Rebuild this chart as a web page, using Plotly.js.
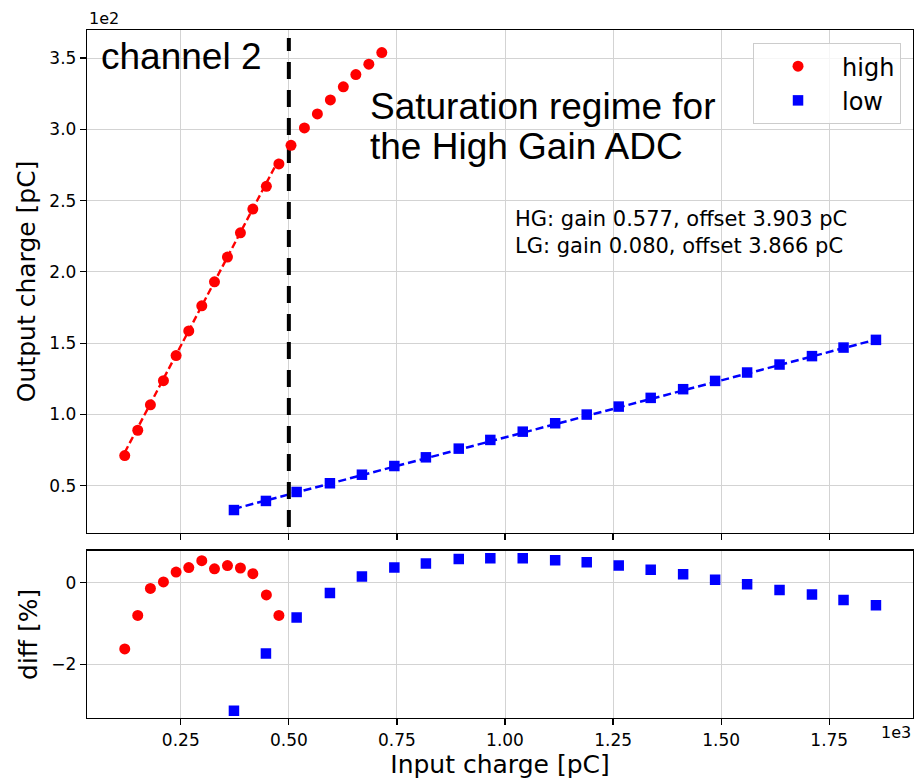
<!DOCTYPE html>
<html>
<head>
<meta charset="utf-8">
<script src="https://cdn.plot.ly/plotly-3.0.1.min.js"></script>
<style>html,body{margin:0;padding:0;background:#fff;}#chart{width:914px;height:781px;}</style>
</head>
<body>
<div id="chart"></div>
<script>
// ---- data (input charge in pC, output charge in pC, diff in %) ----
const highX = [120.4, 150.5, 179.8, 209.9, 239.2, 268.5, 298.6, 328.0, 358.0, 388.0, 416.7, 448.0, 477.0, 505.0, 536.0, 566.0, 596.0, 626.0, 655.0, 685.0, 715.0];
const highY = [71.1, 88.9, 106.7, 123.7, 141.3, 158.6, 176.2, 193.0, 210.4, 227.4, 244.1, 260.0, 275.7, 288.8, 301.0, 310.8, 320.6, 329.8, 338.4, 345.7, 353.9];
const lowX = [373, 447, 518, 595, 669, 744, 817, 893, 966, 1041, 1116, 1189, 1263, 1337, 1412, 1486, 1560, 1635, 1710, 1783, 1858];
const lowY = [32.9, 39.3, 45.6, 51.7, 57.7, 63.8, 69.9, 76.0, 82.1, 87.9, 93.8, 99.9, 105.5, 111.6, 117.7, 123.5, 129.4, 135.0, 140.9, 146.9, 152.3];
const hgFitX = [120.4, 477.0];
const hgFitY = [73.3, 279.1];
const lgFitX = [373, 1858];
const lgFitY = [33.7, 152.5];
const highDiffX = highX.slice(0, 13);
const highDiff = [-1.62, -0.80, -0.14, 0.02, 0.26, 0.37, 0.54, 0.34, 0.42, 0.36, 0.22, -0.30, -0.80];
const lowDiff = [-3.13, -1.73, -0.85, -0.25, 0.15, 0.37, 0.47, 0.58, 0.60, 0.60, 0.55, 0.50, 0.42, 0.32, 0.21, 0.07, -0.04, -0.18, -0.29, -0.42, -0.55];
const saturationX = [500, 500];
const saturationY = [21, 364];
const xTickVals = [250, 500, 750, 1000, 1250, 1500, 1750];
const xTickText = ['0.25', '0.50', '0.75', '1.00', '1.25', '1.50', '1.75'];
const yTickVals = [50, 100, 150, 200, 250, 300, 350];
const yTickText = ['0.5', '1.0', '1.5', '2.0', '2.5', '3.0', '3.5'];
const dTickVals = [-2, 0];
const dTickText = ['\u22122', '0'];
const fitLines = ['HG: gain 0.577, offset 3.903 pC', 'LG: gain 0.080, offset 3.866 pC'];

const RED = '#ff0000', BLUE = '#0000ff';
const DV = 'DejaVu Sans, sans-serif';
const LS = 'Liberation Sans, Arial, sans-serif';

const traces = [
  {x: hgFitX, y: hgFitY, xaxis: 'x', yaxis: 'y', mode: 'lines', showlegend: false, hoverinfo: 'skip',
   line: {color: RED, width: 2.4, dash: '7px,3.5px'}},
  {x: lgFitX, y: lgFitY, xaxis: 'x', yaxis: 'y', mode: 'lines', showlegend: false, hoverinfo: 'skip',
   line: {color: BLUE, width: 2.5, dash: '8px,4px'}},
  {x: saturationX, y: saturationY, xaxis: 'x', yaxis: 'y', mode: 'lines', showlegend: false, hoverinfo: 'skip',
   line: {color: '#000000', width: 4, dash: '17px,11px'}},
  {x: highX, y: highY, xaxis: 'x', yaxis: 'y', mode: 'markers', name: 'high',
   marker: {color: RED, size: 11, symbol: 'circle'}},
  {x: lowX, y: lowY, xaxis: 'x', yaxis: 'y', mode: 'markers', name: 'low',
   marker: {color: BLUE, size: 10.5, symbol: 'square'}},
  {x: highDiffX, y: highDiff, xaxis: 'x2', yaxis: 'y2', mode: 'markers', showlegend: false,
   marker: {color: RED, size: 11, symbol: 'circle'}},
  {x: lowX, y: lowDiff, xaxis: 'x2', yaxis: 'y2', mode: 'markers', showlegend: false,
   marker: {color: BLUE, size: 10.5, symbol: 'square'}}
];

const GRID = '#d3d3d3';
const tickFont = {family: DV, size: 17, color: '#000'};
const titleFont = {family: DV, size: 25, color: '#000'};
const axisCommon = {
  showline: true, linecolor: '#000', linewidth: 1.2, mirror: true,
  ticks: 'outside', ticklen: 6, tickwidth: 1.2, tickcolor: '#000',
  showgrid: true, gridcolor: GRID, gridwidth: 1, zeroline: false,
  tickfont: tickFont, tickmode: 'array'
};

const layout = {
  width: 914, height: 781,
  margin: {l: 87, r: 1, t: 30, b: 63},
  paper_bgcolor: '#fff', plot_bgcolor: '#fff',
  showlegend: true,
  legend: {
    x: 0.9855, y: 0.981, xanchor: 'right', yanchor: 'top',
    bgcolor: 'rgba(255,255,255,0.8)', bordercolor: '#cccccc', borderwidth: 1,
    font: {family: DV, size: 24, color: '#000'}, itemwidth: 78, tracegroupgap: 0
  },
  xaxis: Object.assign({}, axisCommon, {
    domain: [0, 1], anchor: 'y', range: [33.1, 1943.7],
    tickvals: xTickVals, ticktext: xTickText, showticklabels: false
  }),
  xaxis2: Object.assign({}, axisCommon, {
    domain: [0, 1], anchor: 'y2', range: [33.1, 1943.7], matches: 'x',
    tickvals: xTickVals, ticktext: xTickText,
    title: {text: 'Input charge [pC]', font: titleFont, standoff: 4}
  }),
  yaxis: Object.assign({}, axisCommon, {
    domain: [0.2693, 1], anchor: 'x', range: [17.0, 369.7],
    tickvals: yTickVals, ticktext: yTickText,
    title: {text: 'Output charge [pC]', font: titleFont, standoff: 6}
  }),
  yaxis2: Object.assign({}, axisCommon, {
    domain: [0, 0.2432], anchor: 'x2', range: [-3.31, 0.784],
    tickvals: dTickVals, ticktext: dTickText,
    title: {text: 'diff [%]', font: titleFont, standoff: 6}
  }),
  annotations: [
    {text: 'channel 2', xref: 'x', yref: 'y', x: 60, y: 351, xanchor: 'left', yanchor: 'middle',
     showarrow: false, font: {family: LS, size: 37, color: '#000'}},
    {text: 'Saturation regime for', xref: 'x', yref: 'y', x: 683, y: 315.8, xanchor: 'left', yanchor: 'middle',
     showarrow: false, font: {family: LS, size: 37, color: '#000'}},
    {text: 'the High Gain ADC', xref: 'x', yref: 'y', x: 683, y: 288.3, xanchor: 'left', yanchor: 'middle',
     showarrow: false, font: {family: LS, size: 37, color: '#000'}},
    {text: fitLines.join('<br>'), xref: 'x', yref: 'y', x: 1018, y: 227.5, xanchor: 'left', yanchor: 'middle',
     align: 'left', showarrow: false, font: {family: DV, size: 21, color: '#000'}},
    {text: '1e2', xref: 'paper', yref: 'paper', x: 0, y: 1.0174, xanchor: 'left', yanchor: 'middle',
     showarrow: false, font: {family: DV, size: 16, color: '#000'}},
    {text: '1e3', xref: 'paper', yref: 'paper', x: 1, y: -0.0218, xanchor: 'right', yanchor: 'middle',
     showarrow: false, font: {family: DV, size: 16, color: '#000'}}
  ]
};

Plotly.newPlot('chart', traces, layout, {displayModeBar: false, staticPlot: true});
</script>
</body>
</html>
